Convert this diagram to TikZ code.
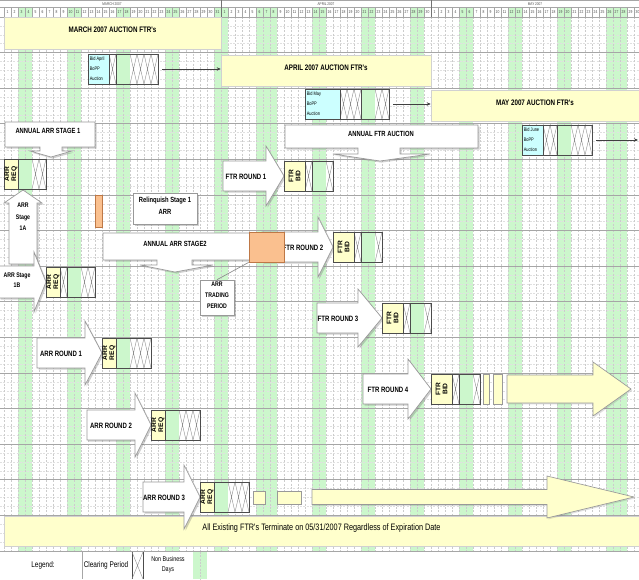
\documentclass[tikz,border=0pt]{standalone}
\usepackage{fontspec}
\setmainfont{Liberation Sans}
\newfontfamily\nf[FakeStretch=0.78]{Liberation Sans}
\usetikzlibrary{shadows,fit,arrows.meta}
\definecolor{bizG}{RGB}{204,247,204}
\definecolor{reqY}{RGB}{255,255,204}
\definecolor{bidC}{RGB}{204,255,255}
\definecolor{orgF}{RGB}{250,192,143}
\definecolor{orgD}{RGB}{190,120,70}
\tikzset{
  vgrid/.style={draw=black!20, line width=0.4pt, dash pattern=on 1.5pt off 1pt},
  hgrid/.style={draw=black!35, line width=0.5pt},
  qgrid/.style={draw=black!12, line width=0.35pt, dash pattern=on 1.5pt off 1pt},
  hdr/.style={draw=black!35, line width=0.4pt},
  hdrdark/.style={draw=black!55, line width=0.5pt},
  daynum/.style={font=\nf\fontsize{3.2}{3.5}\selectfont, inner sep=0pt, text=black!70},
  monthlbl/.style={font=\nf\fontsize{3}{3.5}\selectfont, inner sep=0pt, text=black!70},
  banner/.style={fill=reqY, draw=black!18, inner sep=0pt, font=\nf\bfseries\fontsize{6}{7}\selectfont},
  reqframe/.style={draw=black!70, line width=0.5pt, inner sep=0pt},
  sepline/.style={draw=black!70, line width=0.5pt},
  xline/.style={draw=black!45, line width=0.3pt},
  wshape/.style={draw=black!40, fill=white, line width=0.5pt, line join=miter,
    drop shadow={shadow xshift=1.2pt, shadow yshift=-1.2pt, opacity=0.3, fill=black!60}},
  yshape/.style={draw=black!40, fill=reqY, line width=0.5pt,
    drop shadow={shadow xshift=1pt, shadow yshift=-1pt, opacity=0.2, fill=black!60}},
  wbox/.style={wshape, inner sep=0pt, align=center},
  orgbox/.style={fill=orgF, draw=orgD, line width=0.6pt, inner sep=0pt},
  calltxt/.style={font=\nf\bfseries\fontsize{5.6}{6.5}\selectfont, inner sep=0pt},
  roundtxt/.style={font=\nf\bfseries\fontsize{5.8}{7}\selectfont, inner sep=0pt},
  stgtxt/.style={font=\nf\bfseries\fontsize{5}{8.5}\selectfont, align=center, inner sep=0pt},
  rottxt/.style={rotate=90, align=center, font=\bfseries\fontsize{5}{5.3}\selectfont, inner sep=0pt},
  bidtxt/.style={align=left, anchor=west, font=\nf\fontsize{3.8}{7.6}\selectfont, inner sep=0pt},
  legtxt/.style={font=\nf\fontsize{6.2}{7}\selectfont, inner sep=0pt},
  legsmall/.style={font=\nf\fontsize{5.2}{7.5}\selectfont, align=center, inner sep=0pt},
  conn/.style={draw=black!75, line width=0.5pt, -{Stealth[length=3pt,width=2.6pt]}},
  callline/.style={draw=black!45, line width=0.5pt}
}
\newcommand\xcell[2]{\fill[white] (#1,#2) rectangle ++(7,30);
  \draw[xline] (#1,#2) -- ++(7,30) ++(0,-30) -- ++(-7,30);}
\newcommand\gcell[3]{\fill[bizG] (#1,#2) rectangle (#3,#2+30);
  \draw[sepline] (#1,#2) -- (#1,#2+30) (#3,#2) -- (#3,#2+30);}
\newcommand\reqbox[6]{\fill[#6] (#2,#3) rectangle (#4,#3+30);
  \draw[sepline] (#4,#3) -- (#4,#3+30);
  \node[reqframe, fit={(#2,#3) (#5,#3+30)}] (#1) {};}
\newcommand\rarr[7]{\path[#1] (#2,#5-#6) -- (#3,#5-#6) -- (#3,#5-#7) -- (#4,#5)
  -- (#3,#5+#7) -- (#3,#5+#6) -- (#2,#5+#6) -- cycle;}
\begin{document}
\begin{tikzpicture}[x=0.75pt,y=-0.75pt]
\useasboundingbox (0,0) rectangle (639,579);
\clip (0,0) rectangle (639,579);
\fill[white] (0,0) rectangle (639,579);
% ---------- grid ----------
\foreach \i in {2,3,9,10,16,17,23,24,30,31,36,37,38,44,45,51,52,58,59,65,66,72,73,79,80,86,87,88}
  \fill[bizG] ({4+7*\i},7) rectangle ++(7,544);
\foreach \k in {0,...,14} \foreach \q in {1,2,3}
  \draw[qgrid] (0,{17+35.6*\k+8.9*\q}) -- (639,{17+35.6*\k+8.9*\q});
\foreach \i in {0,...,92} \draw[vgrid] ({4+7*\i},17) -- ({4+7*\i},551);
\foreach \k in {0,...,15} \draw[hgrid] (0,{17+35.6*\k}) -- (639,{17+35.6*\k});
% ---------- header ----------
\draw[hdr] (0,0.4) -- (639,0.4) (0,7) -- (639,7) (0,17) -- (639,17);
\foreach \i in {0,...,92} \draw[hdr] ({4+7*\i},7) -- ({4+7*\i},17);
\draw[hdrdark] (221,0) -- (221,17) (431,0) -- (431,17);
\foreach \d in {1,...,31} \node[daynum] (mar\d) at ({0.5+7*\d},12) {\d};
\foreach \d in {1,...,30} \node[daynum] (apr\d) at ({217.5+7*\d},12) {\d};
\foreach \d in {1,...,30} \node[daynum] (may\d) at ({427.5+7*\d},12) {\d};
\node[monthlbl] (mmar) at (112,3.7) {MARCH 2007};
\node[monthlbl] (mapr) at (326,3.7) {APRIL 2007};
\node[monthlbl] (mmay) at (535,3.7) {MAY 2007};
% ---------- banners ----------
\node[banner, fit={(4,17) (221,49)}] (marb) {MARCH 2007 AUCTION FTR's};
\node[banner, fit={(221,55) (431,86)}] (aprb) {APRIL 2007 AUCTION FTR's};
\node[banner, fit={(431,90) (639,121)}] (mayb) {MAY 2007 AUCTION FTR's};
\node[banner, font=\nf\fontsize{7}{8}\selectfont, fit={(4,516) (639,546)}] (endb)
  {All Existing FTR's Terminate on 05/31/2007 Regardless of Expiration Date};
% ---------- callouts ----------
\path[wshape] (5,122) -- (95,122) -- (95,147) -- (62,147) -- (62,151) -- (72,151) -- (51,157)
  -- (30,151) -- (40,151) -- (40,147) -- (5,147) -- cycle;
\node[calltxt] (as1) at (48,131) {ANNUAL ARR STAGE 1};
\path[wshape] (285,125) -- (478,125) -- (478,148) -- (400,148) -- (400,154) -- (430,154) -- (380,161)
  -- (333,154) -- (358,154) -- (358,148) -- (285,148) -- cycle;
\node[calltxt] (afa) at (381,134) {ANNUAL FTR AUCTION};
\path[wshape] (103,233) -- (252,233) -- (252,260) -- (192,260) -- (192,265) -- (213,265) -- (175,272)
  -- (140,265) -- (157,265) -- (157,260) -- (103,260) -- cycle;
\node[calltxt] (as2) at (175,244) {ANNUAL ARR STAGE2};
\node[wbox, calltxt, fit={(133,193) (197,224)}] (rel) {Relinquish Stage 1\\[2pt]ARR};
\node[wbox, stgtxt, fit={(200,280) (234,315)}] (atp) {ARR\\TRADING\\PERIOD};
% ---------- stage arrows ----------
\path[wshape] (23,190) -- (42,203) -- (37,203) -- (37,264) -- (9,264) -- (9,203) -- (4,203) -- cycle;
\node[stgtxt] (s1a) at (23,217) {ARR\\Stage\\1A};
\path[wshape] (-1,266) -- (34,266) -- (34,252) -- (46,282) -- (34,312) -- (34,298) -- (-1,298) -- cycle;
\node[stgtxt, font=\nf\bfseries\fontsize{5}{7.5}\selectfont] (s1b) at (17,280) {ARR Stage\\1B};
% ---------- round arrows ----------
\rarr{wshape}{37}{85}{102}{353}{15}{32}
\node[roundtxt] (ar1) at (61,354) {ARR ROUND 1};
\rarr{wshape}{87}{135}{151}{425}{15}{32}
\node[roundtxt] (ar2) at (111,426) {ARR ROUND 2};
\rarr{wshape}{143}{184}{200}{497}{15}{32}
\node[roundtxt] (ar3) at (164,498) {ARR ROUND 3};
\rarr{wshape}{223}{266}{284}{176}{15}{30}
\node[roundtxt] (fr1) at (246,177) {FTR ROUND 1};
\rarr{wshape}{262}{318}{333}{247}{15}{30}
\node[roundtxt] (fr2) at (303,248) {FTR ROUND 2};
\rarr{wshape}{317}{358}{382}{318}{15}{29}
\node[roundtxt] (fr3) at (338,319) {FTR ROUND 3};
\rarr{wshape}{363}{408}{431}{389}{15}{30}
\node[roundtxt] (fr4) at (388,390) {FTR ROUND 4};
% ---------- yellow continuation ----------
\path[yshape] (483,374) rectangle (489,404);
\path[yshape] (493,374) rectangle (502,404);
\rarr{yshape}{507}{593}{631}{389}{14}{27}
\path[yshape] (253,491) rectangle (265,504);
\path[yshape] (277,491) rectangle (301,504);
\rarr{yshape}{312}{547}{634}{497}{7.5}{21}
% ---------- request / bid boxes ----------
\xcell{109}{54} \gcell{116}{54}{130} \xcell{130}{54} \xcell{137}{54} \xcell{144}{54} \xcell{151}{54}
\reqbox{bidA}{88}{54}{109}{158}{bidC}
\node[bidtxt] (bidAt) at (89.5,69) {Bid April\\BoPP\\Auction};
\xcell{340}{89} \xcell{347}{89} \xcell{354}{89} \gcell{361}{89}{375} \xcell{375}{89} \xcell{382}{89}
\reqbox{bidM}{305}{89}{340}{389}{bidC}
\node[bidtxt] (bidMt) at (306.5,104) {Bid May\\BoPP\\Auction};
\xcell{543}{125} \xcell{550}{125} \gcell{557}{125}{571} \xcell{571}{125} \xcell{578}{125} \xcell{585}{125}
\reqbox{bidJ}{522}{125}{543}{592}{bidC}
\node[bidtxt] (bidJt) at (523.5,140) {Bid June\\BoPP\\Auction};
\gcell{18}{159}{32} \xcell{32}{159} \xcell{39}{159}
\reqbox{arq1}{4}{159}{18}{46}{reqY}
\node[rottxt] (arq1t) at (11,174) {ARR\\REQ};
\xcell{305}{161} \gcell{312}{161}{326} \xcell{326}{161}
\reqbox{fb1}{284}{161}{305}{333}{reqY}
\node[rottxt] (fb1t) at (294.5,176) {FTR\\BID};
\xcell{354}{232} \gcell{361}{232}{375} \xcell{375}{232}
\reqbox{fb2}{333}{232}{354}{382}{reqY}
\node[rottxt] (fb2t) at (343.5,247) {FTR\\BID};
\xcell{60}{267} \gcell{67}{267}{81} \xcell{81}{267} \xcell{88}{267}
\reqbox{arq2}{46}{267}{60}{95}{reqY}
\node[rottxt] (arq2t) at (53,282) {ARR\\REQ};
\xcell{403}{303} \gcell{410}{303}{424} \xcell{424}{303}
\reqbox{fb3}{382}{303}{403}{431}{reqY}
\node[rottxt] (fb3t) at (392.5,318) {FTR\\BID};
\gcell{116}{338}{130} \xcell{130}{338} \xcell{137}{338} \xcell{144}{338}
\reqbox{arq3}{102}{338}{116}{151}{reqY}
\node[rottxt] (arq3t) at (109,353) {ARR\\REQ};
\xcell{452}{374} \gcell{459}{374}{473} \xcell{473}{374}
\reqbox{fb4}{431}{374}{452}{480}{reqY}
\node[rottxt] (fb4t) at (441.5,389) {FTR\\BID};
\gcell{165}{410}{179} \xcell{179}{410} \xcell{186}{410} \xcell{193}{410}
\reqbox{arq4}{151}{410}{165}{200}{reqY}
\node[rottxt] (arq4t) at (158,425) {ARR\\REQ};
\gcell{214}{482}{228} \xcell{228}{482} \xcell{235}{482} \xcell{242}{482}
\reqbox{arq5}{200}{482}{214}{249}{reqY}
\node[rottxt] (arq5t) at (207,497) {ARR\\REQ};
% ---------- orange periods ----------
\node[orgbox, fit={(95,195) (102,227)}] (relb) {};
\node[orgbox, fit={(249,232) (284,262)}] (atb) {};
\draw[callline] (atp.north) -- (atb.south west);
% ---------- connectors ----------
\coordinate (jend) at (638,140);
\draw[conn, shorten <=3pt] (bidA.east) -- (bidA.east -| aprb.west);
\draw[conn, shorten <=3pt] (bidM.east) -- (bidM.east -| mayb.west);
\draw[conn, shorten <=3pt] (bidJ.east) -- (bidJ.east -| jend);
% ---------- legend ----------
\node[legtxt] (leg) at (43,565) {Legend:};
\draw[hdr] (82,552) -- (82,579);
\node[legtxt] (lcp) at (106,565) {Clearing Period};
\fill[white] (132,552) rectangle (143,579);
\draw[sepline] (132,552) -- (132,579) (143,552) -- (143,579);
\draw[xline] (132,552) -- (143,579) (143,552) -- (132,579);
\node[legsmall] (lnb) at (168,565) {Non Business\\Days};
\fill[bizG] (193,552) rectangle (207,579);
\draw[vgrid] (200,552) -- (200,579);
\end{tikzpicture}
\end{document}
